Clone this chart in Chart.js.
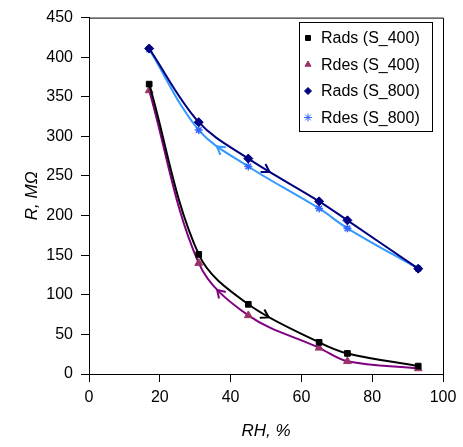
<!DOCTYPE html>
<html lang="en">
<head>
    <meta charset="UTF-8">
    <title>R vs RH</title>
    <script src="https://cdn.jsdelivr.net/npm/chart.js"></script>
    <style>
        body {
            margin: 0;
            background: #fff;
        }
    </style>
</head>
<body>
    <canvas id="chart" width="463" height="447"></canvas>

    <script>
        // values
        const rh = [17, 31, 45, 65, 73, 93];
        const radsS400 = [366, 151, 88, 40, 26, 10];
        const rdesS400 = [358, 140, 74, 33, 16, 7];
        const radsS800 = [411, 318, 272, 218, 194, 133];
        const rdesS800 = [410, 308, 262, 209, 184, 133];
        const seriesLabels = ['Rads (S_400)', 'Rdes (S_400)', 'Rads (S_800)', 'Rdes (S_800)'];

        const FONT = 'Liberation Sans, Arial, sans-serif';

        function pts(ys) {
            return rh.map((x, i) => ({ x: x, y: ys[i] }));
        }

        function series(label, ys, line, marker, style, size) {
            return {
                label: label,
                data: pts(ys),
                borderColor: line,
                borderWidth: 2,
                backgroundColor: marker,
                pointBackgroundColor: marker,
                pointBorderColor: marker,
                pointBorderWidth: style === 'star' ? 1.5 : 1,
                pointStyle: style,
                pointRadius: size,
                tension: 0.35,
                fill: false
            };
        }

        // arrow on each curve: segment index, position along it, direction
        const arrows = [
            { seg: 2, t: 0.3, dir: 1 },
            { seg: 1, t: 0.45, dir: -1 },
            { seg: 2, t: 0.3, dir: 1 },
            { seg: 1, t: 0.4, dir: -1 }
        ];

        function bez(p0, p1, p2, p3, t) {
            const u = 1 - t;
            return u * u * u * p0 + 3 * u * u * t * p1 + 3 * u * t * t * p2 + t * t * t * p3;
        }

        const arrowPlugin = {
            id: 'arrows',
            afterDatasetsDraw(chart) {
                const ctx = chart.ctx;
                arrows.forEach((a, di) => {
                    const meta = chart.getDatasetMeta(di);
                    const p = meta.data[a.seg];
                    const q = meta.data[a.seg + 1];
                    const cx = [p.x, p.cp2x, q.cp1x, q.x];
                    const cy = [p.y, p.cp2y, q.cp1y, q.y];
                    const x = bez(...cx, a.t);
                    const y = bez(...cy, a.t);
                    const dx = (bez(...cx, a.t + 0.01) - bez(...cx, a.t - 0.01)) * a.dir;
                    const dy = (bez(...cy, a.t + 0.01) - bez(...cy, a.t - 0.01)) * a.dir;
                    const ang = Math.atan2(dy, dx);
                    const len = 9;
                    ctx.save();
                    ctx.strokeStyle = chart.data.datasets[di].borderColor;
                    ctx.lineWidth = 2;
                    ctx.beginPath();
                    ctx.moveTo(x + len * Math.cos(ang + Math.PI - 0.55), y + len * Math.sin(ang + Math.PI - 0.55));
                    ctx.lineTo(x, y);
                    ctx.lineTo(x + len * Math.cos(ang + Math.PI + 0.55), y + len * Math.sin(ang + Math.PI + 0.55));
                    ctx.stroke();
                    ctx.restore();
                });
            }
        };

        // plot frame and the boxed legend inside the plot
        const framePlugin = {
            id: 'frame',
            afterDraw(chart) {
                const ctx = chart.ctx;
                const area = chart.chartArea;
                ctx.save();
                ctx.strokeStyle = '#000';
                ctx.lineWidth = 1;
                ctx.beginPath();
                ctx.moveTo(area.left, area.top + 0.5);
                ctx.lineTo(area.right + 0.5, area.top + 0.5);
                ctx.lineTo(area.right + 0.5, area.bottom);
                ctx.stroke();

                const bx = 299.5, by = 22.5, bw = 133, bh = 109;
                ctx.fillStyle = '#fff';
                ctx.fillRect(bx, by, bw, bh);
                ctx.strokeRect(bx, by, bw, bh);

                ctx.font = '16px ' + FONT;
                ctx.textBaseline = 'middle';
                chart.data.datasets.forEach((ds, i) => {
                    const y = 38 + i * 26.5;
                    ctx.fillStyle = ds.pointBackgroundColor;
                    ctx.strokeStyle = ds.pointBorderColor;
                    Chart.helpers.drawPoint(ctx, {
                        pointStyle: ds.pointStyle,
                        radius: ds.pointStyle === 'star' ? 4 : 3.5,
                        borderWidth: ds.pointBorderWidth,
                        rotation: 0
                    }, 308, y);
                    ctx.fillStyle = '#000';
                    ctx.fillText(ds.label, 321, y + 1);
                });
                ctx.restore();
            }
        };

        new Chart(document.getElementById('chart'), {
            type: 'line',
            data: {
                datasets: [
                    series(seriesLabels[0], radsS400, '#000000', '#000000', 'rect', 4),
                    series(seriesLabels[1], rdesS400, '#800080', '#993366', 'triangle', 4.5),
                    series(seriesLabels[2], radsS800, '#000080', '#000080', 'rectRot', 4.5),
                    series(seriesLabels[3], rdesS800, '#3399FF', '#3366FF', 'star', 4)
                ]
            },
            options: {
                responsive: false,
                animation: false,
                layout: {
                    padding: { top: 14, right: 20, left: 0, bottom: 0 }
                },
                plugins: {
                    legend: { display: false },
                    tooltip: { enabled: false }
                },
                scales: {
                    x: {
                        type: 'linear',
                        min: 0,
                        max: 100,
                        afterFit: (s) => { s.height = 73; },
                        ticks: {
                            stepSize: 20,
                            color: '#000',
                            padding: 6,
                            font: { family: FONT, size: 16 }
                        },
                        grid: {
                            drawOnChartArea: false,
                            color: '#000',
                            tickLength: 8
                        },
                        border: { color: '#000', width: 1 },
                        title: {
                            display: true,
                            text: 'RH, %',
                            color: '#000',
                            padding: { top: 0, bottom: 6 },
                            font: { family: FONT, size: 17, style: 'italic' }
                        }
                    },
                    y: {
                        min: 0,
                        max: 450,
                        afterFit: (s) => { s.width = 89; },
                        ticks: {
                            stepSize: 50,
                            color: '#000',
                            padding: 8,
                            font: { family: FONT, size: 16 }
                        },
                        grid: {
                            drawOnChartArea: false,
                            color: '#000',
                            tickLength: 8
                        },
                        border: { color: '#000', width: 1 },
                        title: {
                            display: true,
                            text: 'R, MΩ',
                            color: '#000',
                            padding: { top: 22, bottom: 0 },
                            font: { family: FONT, size: 17, style: 'italic' }
                        }
                    }
                }
            },
            plugins: [arrowPlugin, framePlugin]
        });
    </script>
</body>
</html>
